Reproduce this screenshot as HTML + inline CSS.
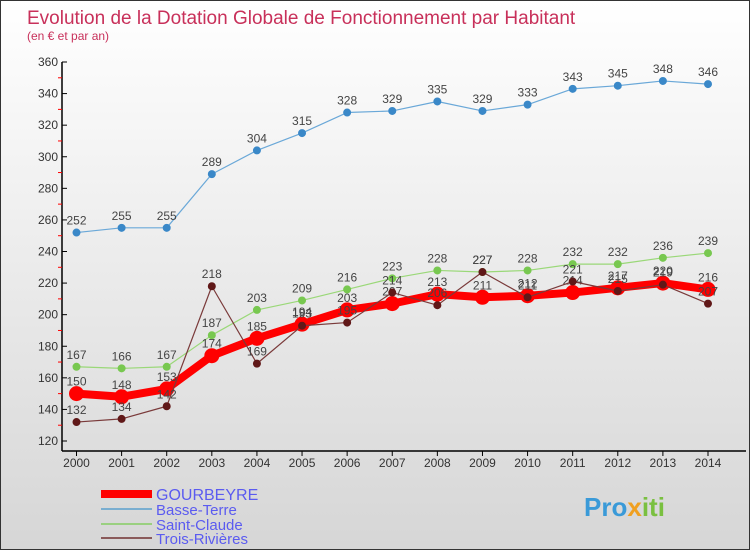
<!DOCTYPE html>
<html><head><meta charset="utf-8"><style>
body{margin:0}
#c{width:750px;height:550px;position:relative;overflow:hidden;background:linear-gradient(#fff,#d6d6d6);font-family:"Liberation Sans",sans-serif;box-sizing:border-box;border:1px solid #333}
</style></head><body>
<div id="c">
<svg id="s" width="750" height="550" style="position:absolute;left:0;top:0">
<text x="26" y="23" font-size="19" fill="#c8305a">Evolution de la Dotation Globale de Fonctionnement par Habitant</text>
<text x="26" y="39" font-size="12" fill="#c8305a">(en € et par an)</text>
<g id="axes"></g><g id="series"></g>
<g>
<rect x="100" y="489" width="51" height="8" fill="#f00"/>
<text x="155" y="499" font-size="16" fill="#5b5bf0">GOURBEYRE</text>
<line x1="100" y1="508" x2="151" y2="508" stroke="#7aaed0" stroke-width="2"/>
<text x="155" y="514" font-size="15" fill="#5b5bf0">Basse-Terre</text>
<line x1="100" y1="523" x2="151" y2="523" stroke="#9ad080" stroke-width="2"/>
<text x="155" y="529" font-size="15" fill="#5b5bf0">Saint-Claude</text>
<line x1="100" y1="537" x2="151" y2="537" stroke="#8a5a5a" stroke-width="2"/>
<text x="155" y="543" font-size="15" fill="#5b5bf0">Trois-Rivières</text>
</g>
<text x="583" y="515" font-size="26" font-weight="bold" fill="#3a9ad8">Pro<tspan fill="#f0a020">x</tspan><tspan fill="#7ac040">iti</tspan></text>
</svg>
</div>
<script>
const years=[2000,2001,2002,2003,2004,2005,2006,2007,2008,2009,2010,2011,2012,2013,2014];
const yTicks=[120,140,160,180,200,220,240,260,280,300,320,340,360];
const basseTerre=[252,255,255,289,304,315,328,329,335,329,333,343,345,348,346];
const saintClaude=[167,166,167,187,203,209,216,223,228,227,228,232,232,236,239];
const troisRivieres=[132,134,142,218,169,193,195,214,206,227,211,221,215,219,207];
const gourbeyre=[150,148,153,174,185,194,203,207,213,211,212,214,217,220,216];
const NS="http://www.w3.org/2000/svg";
const X=i=>75.5+i*(707-75.5)/(years.length-1);
const Y=v=>440-(v-120)*(440-61)/240;
function mk(tag,attrs,parent,text){const e=document.createElementNS(NS,tag);for(const k in attrs)e.setAttribute(k,attrs[k]);if(text!==undefined)e.textContent=text;parent.appendChild(e);return e;}
const ax=document.getElementById('axes');
let e=mk('line',{x1:61,y1:61,x2:61,y2:450,stroke:'#000','stroke-width':1.5},ax);

e=mk('line',{x1:61,y1:450,x2:745,y2:450,stroke:'#000','stroke-width':1.5},ax);

yTicks.forEach((t,i)=>{mk('line',{x1:61,y1:Y(t),x2:66,y2:Y(t),stroke:'#000'},ax);
e=mk('text',{x:57,y:Y(t)+4,'font-size':12,fill:'#333','text-anchor':'end'},ax,t);

if(i<yTicks.length-1)mk('line',{x1:57,y1:Y(t+10),x2:61,y2:Y(t+10),stroke:'#f00'},ax);});
years.forEach((yr,i)=>{mk('line',{x1:X(i),y1:450,x2:X(i),y2:455,stroke:'#000'},ax);
e=mk('text',{x:X(i),y:466,'font-size':12,fill:'#333','text-anchor':'middle'},ax,yr);
});
const sg=document.getElementById('series');
function series(name,data,color,dot,w,r,lab){
 const g=mk('g',{},sg);
 mk('polyline',{points:data.map((v,i)=>X(i)+','+Y(v)).join(' '),fill:'none',stroke:color,'stroke-width':w,'stroke-linejoin':'round'},g);
 data.forEach((v,i)=>{const c=mk('circle',{cx:X(i),cy:Y(v),r:r,fill:dot,stroke:dot},g);
  
  const t=mk('text',{x:X(i),y:Y(v)-8,'font-size':12,fill:'#444','text-anchor':'middle'},g,v);
  });
}
series('basse-terre',basseTerre,'#6aa8d8','#3a88c8',1.2,3.5);
series('saint-claude',saintClaude,'#9ad878','#78c850',1.2,3.5);
series('gourbeyre',gourbeyre,'#f00','#f00',8,7);
series('trois-rivieres',troisRivieres,'#7a3a3a','#601818',1.2,3.5);
</script>
</body></html>
